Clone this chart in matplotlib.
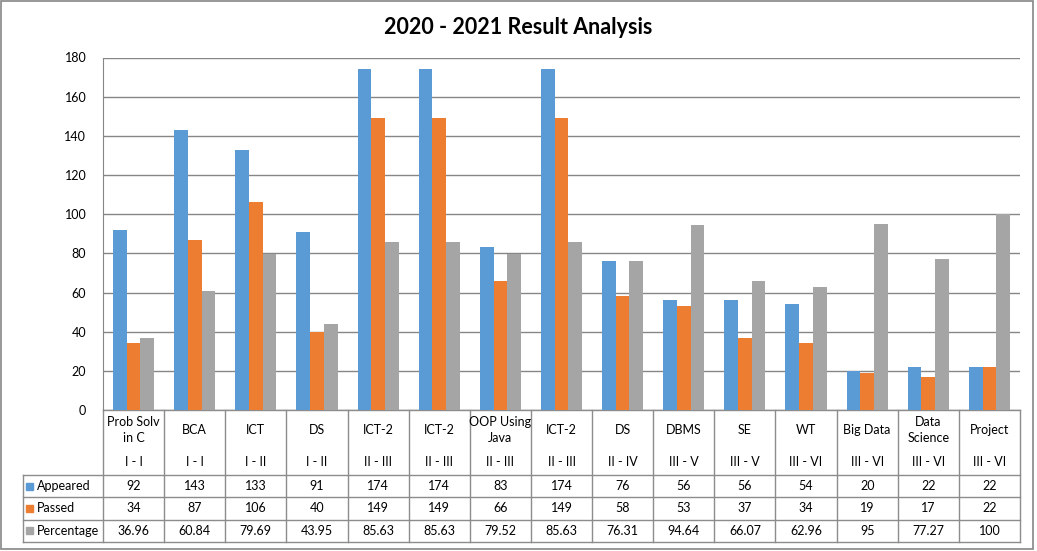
"""
2020 - 2021 eredményelemzés: oszlopdiagram adattáblával
"""

import matplotlib.pyplot as plt
import matplotlib.transforms as mtransforms
from matplotlib.patches import Rectangle

# Adatok
subjects = ['Prob Solv\nin C', 'BCA', 'ICT', 'DS', 'ICT-2', 'ICT-2', 'OOP Using\nJava',
            'ICT-2', 'DS', 'DBMS', 'SE', 'WT', 'Big Data', 'Data\nScience', 'Project']
semesters = ['I - I', 'I - I', 'I - II', 'I - II', 'II - III', 'II - III', 'II - III',
             'II - III', 'II - IV', 'III - V', 'III - V', 'III - VI', 'III - VI', 'III - VI', 'III - VI']
appeared = [92, 143, 133, 91, 174, 174, 83, 174, 76, 56, 56, 54, 20, 22, 22]
passed = [34, 87, 106, 40, 149, 149, 66, 149, 58, 53, 37, 34, 19, 17, 22]
percentage = ['36.96', '60.84', '79.69', '43.95', '85.63', '85.63', '79.52', '85.63',
              '76.31', '94.64', '66.07', '62.96', '95', '77.27', '100']
series_names = ['Appeared', 'Passed', 'Percentage']
colors = ['#5B9BD5', '#ED7D31', '#A5A5A5']

plt.rcParams['font.family'] = ['Lato', 'DejaVu Sans']
W, H = 1037, 551
fig = plt.figure(figsize=(W / 100, H / 100), dpi=100)


def fx(px):
    return px / W


def fy(py):
    return 1 - py / H


ax = fig.add_axes([fx(103), fy(410), fx(1020) - fx(103), fy(57.5) - fy(410)])

n = len(subjects)
xs = list(range(n))
bw = 0.224
pct_vals = [float(p) for p in percentage]
for k, vals in enumerate([appeared, passed, pct_vals]):
    ax.bar([x + (k - 1) * bw for x in xs], vals, width=bw, color=colors[k], zorder=3)

ax.set_xlim(-0.5, n - 0.5)
ax.set_ylim(0, 180)
ax.set_yticks(range(0, 181, 20))
ax.tick_params(axis='y', length=0, pad=12, labelsize=9)
ax.set_xticks([])
ax.yaxis.grid(True, color='#868686', linewidth=1)
for s in ['top', 'right', 'bottom']:
    ax.spines[s].set_visible(False)
ax.spines['left'].set_color('#868686')

# Táblázat rajzolása
tr = mtransforms.blended_transform_factory(ax.transData, fig.transFigure)
lc = '#8C8C8C'
row_lines = [475, 497, 519.5, 542]
for py in [410] + row_lines:
    x0 = -0.5 if py == 410 else -0.5 - (103 - 23) / ((1020 - 103) / n)
    ax.plot([x0, n - 0.5], [fy(py), fy(py)], color=lc, lw=1, transform=tr, clip_on=False)
for i in range(n + 1):
    ax.plot([i - 0.5, i - 0.5], [fy(410), fy(542)], color=lc, lw=1, transform=tr, clip_on=False)
fig.add_artist(plt.Line2D([fx(23), fx(23)], [fy(475), fy(542)], color=lc, lw=1))

for i in xs:
    ax.text(i, fy(430), subjects[i], transform=tr, ha='center', va='center', fontsize=9,
            linespacing=1.45)
    ax.text(i, fy(462), semesters[i], transform=tr, ha='center', va='center', fontsize=9)
    for r, vals in enumerate([appeared, passed, percentage]):
        ax.text(i, fy((row_lines[r] + row_lines[r + 1]) / 2), str(vals[i]), transform=tr,
                ha='center', va='center', fontsize=9)

for r, name in enumerate(series_names):
    yc = (row_lines[r] + row_lines[r + 1]) / 2
    fig.add_artist(Rectangle((fx(26), fy(yc + 3.5)), fx(7), fy(0) - fy(7),
                             color=colors[r], transform=fig.transFigure))
    fig.text(fx(37), fy(yc), name, ha='left', va='center', fontsize=9)

# Cím és keret
fig.text(0.5, fy(27), '2020 - 2021 Result Analysis', ha='center', va='center',
         fontsize=15.5, fontweight='bold')
fig.add_artist(Rectangle((fx(1), fy(549)), fx(1033) - fx(1), fy(1) - fy(549), fill=False,
                         edgecolor='#868686', lw=1.2, transform=fig.transFigure))

fig.savefig('out.png', dpi=100)
